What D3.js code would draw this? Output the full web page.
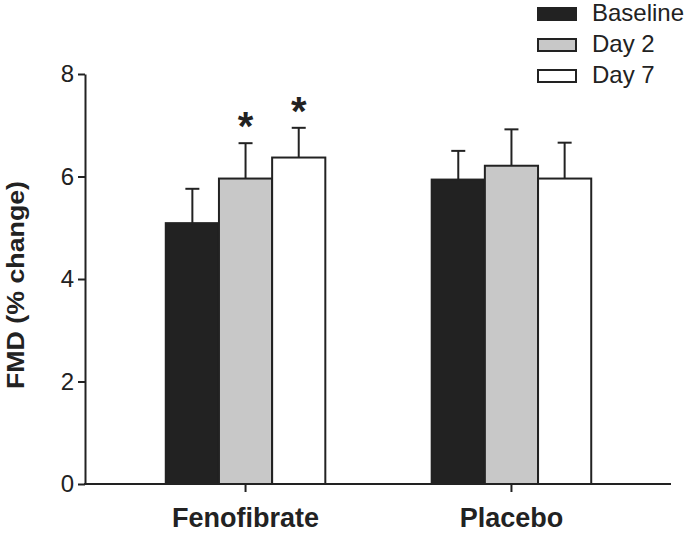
<!DOCTYPE html>
<meta charset="utf-8">
<head>
  <title>FMD by group</title>
  <script src="https://d3js.org/d3.v7.min.js"></script>
  <style>
    body { margin: 0; background: #fff; }
    text { font-family: "Liberation Sans", Arial, sans-serif; fill: #222; }
    .axis path, .axis line { stroke: #222; stroke-width: 2px; }
    .axis text { font-size: 24px; }
    .cat text { font-size: 27px; font-weight: bold; }
  </style>
</head>
<body>
<div id="chart"></div>
<script>

var groups = ["Fenofibrate", "Placebo"];
var series = ["Baseline", "Day 2", "Day 7"];
var colors = ["#222222", "#c8c8c8", "#ffffff"];
var fenofibrate = [5.09, 5.96, 6.37];
var fenofibrateErr = [0.67, 0.69, 0.58];
var placebo = [5.94, 6.21, 5.96];
var placeboErr = [0.56, 0.71, 0.70];
var starred = [[false, true, true], [false, false, false]];
var yTicks = [0, 2, 4, 6, 8];

var values = [fenofibrate, placebo];
var errors = [fenofibrateErr, placeboErr];

var W = 690, H = 534;
var svg = d3.select("#chart").append("svg")
    .attr("width", W)
    .attr("height", H);

var y = d3.scaleLinear().domain([0, 8]).range([484, 74]);

var x0 = d3.scaleBand().domain(groups).range([86, 671])
    .paddingInner(0.4).paddingOuter(0.3);
var x1 = d3.scaleBand().domain(series).range([0, x0.bandwidth()]);

// bars
var g = svg.selectAll("g.group")
    .data(groups)
  .enter().append("g")
    .attr("class", "group")
    .attr("transform", function(d) { return "translate(" + x0(d) + ",0)"; });

g.each(function(grp, gi) {
  var sel = d3.select(this);
  var rows = series.map(function(s, si) {
    return {s: s, i: si, v: values[gi][si], e: errors[gi][si], star: starred[gi][si]};
  });

  // error bars (upper only), drawn under bars
  sel.selectAll("line.err")
      .data(rows)
    .enter().append("line")
      .attr("class", "err")
      .attr("x1", function(d) { return x1(d.s) + x1.bandwidth() / 2; })
      .attr("x2", function(d) { return x1(d.s) + x1.bandwidth() / 2; })
      .attr("y1", function(d) { return y(d.v); })
      .attr("y2", function(d) { return y(d.v + d.e); })
      .attr("stroke", "#222").attr("stroke-width", 2);

  sel.selectAll("line.cap")
      .data(rows)
    .enter().append("line")
      .attr("class", "cap")
      .attr("x1", function(d) { return x1(d.s) + x1.bandwidth() / 2 - 7; })
      .attr("x2", function(d) { return x1(d.s) + x1.bandwidth() / 2 + 7; })
      .attr("y1", function(d) { return y(d.v + d.e); })
      .attr("y2", function(d) { return y(d.v + d.e); })
      .attr("stroke", "#222").attr("stroke-width", 2);

  sel.selectAll("rect")
      .data(rows)
    .enter().append("rect")
      .attr("x", function(d) { return x1(d.s); })
      .attr("y", function(d) { return y(d.v); })
      .attr("width", x1.bandwidth())
      .attr("height", function(d) { return y(0) - y(d.v); })
      .attr("fill", function(d) { return colors[d.i]; })
      .attr("stroke", "#222").attr("stroke-width", 2);

  sel.selectAll("text.star")
      .data(rows.filter(function(d) { return d.star; }))
    .enter().append("text")
      .attr("class", "star")
      .attr("x", function(d) { return x1(d.s) + x1.bandwidth() / 2; })
      .attr("y", function(d) { return y(d.v + d.e) - 3; })
      .attr("text-anchor", "middle")
      .style("font-size", "40px")
      .style("font-weight", "bold")
      .text("*");
});

// axes
var yAxis = svg.append("g")
    .attr("class", "axis")
    .attr("transform", "translate(85,0)")
    .call(d3.axisLeft(y).tickValues(yTicks).tickSize(7).tickSizeOuter(0).tickPadding(4));

var xAxis = svg.append("g")
    .attr("class", "axis cat")
    .attr("transform", "translate(0,484)")
    .call(d3.axisBottom(x0).tickSize(8).tickSizeOuter(0).tickPadding(16));

xAxis.select(".domain").attr("d", "M84,0H671");

svg.append("text")
    .attr("transform", "translate(24,285) rotate(-90)")
    .attr("text-anchor", "middle")
    .attr("textLength", 208)
    .attr("lengthAdjust", "spacingAndGlyphs")
    .style("font-size", "23px")
    .style("font-weight", "bold")
    .text("FMD (% change)");

// legend
var legend = svg.selectAll("g.legend")
    .data(series)
  .enter().append("g")
    .attr("class", "legend")
    .attr("transform", function(d, i) { return "translate(538," + (8 + i * 31) + ")"; });

legend.append("rect")
    .attr("width", 38)
    .attr("height", 12)
    .attr("fill", function(d, i) { return colors[i]; })
    .attr("stroke", "#222").attr("stroke-width", 2);

legend.append("text")
    .attr("x", 54)
    .attr("y", 13)
    .style("font-size", "24px")
    .text(function(d) { return d; });

</script>
</body>
